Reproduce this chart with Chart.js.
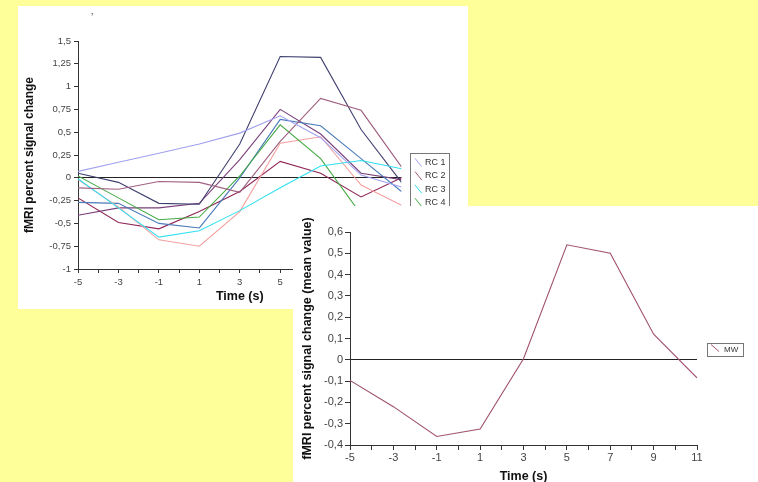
<!DOCTYPE html>
<html>
<head>
<meta charset="utf-8">
<script src="https://cdn.jsdelivr.net/npm/chart.js@4"></script>
<style>
  html, body { margin: 0; padding: 0; }
  body { width: 758px; height: 482px; background: #ffff99; position: relative; overflow: hidden; }
  .panel { position: absolute; background: #fff; }
  #p1 { left: 18px; top: 6px; width: 450px; height: 303px; }
  #p2 { left: 293px; top: 206px; width: 465px; height: 276px; }
  #mark { position: absolute; left: 73px; top: 6px; font: 10px 'Liberation Sans', Arial, sans-serif; color: #333; }
</style>
</head>
<body>
<div class="panel" id="p1"><canvas id="c1" width="450" height="303"></canvas><div id="mark">’</div></div>
<div class="panel" id="p2"><canvas id="c2" width="465" height="276"></canvas></div>
<script>
// time points (s)
var times = [-5, -3, -1, 1, 3, 5, 7, 9, 11];

// single runs, percent signal change
var rcLabels = ['RC 1', 'RC 2', 'RC 3', 'RC 4', 'RC 5', 'RC 6', 'RC 7', 'RC 8', 'RC 9'];
var rc1 = [0.07, 0.17, 0.27, 0.37, 0.49, 0.68, 0.44, 0.03, -0.1];
var rc2 = [-0.11, -0.125, -0.04, -0.05, -0.16, 0.40, 0.87, 0.74, 0.12];
var rc3 = [-0.01, -0.33, -0.65, -0.58, -0.36, -0.11, 0.13, 0.19, 0.1];
var rc4 = [0.02, -0.22, -0.46, -0.43, 0.02, 0.58, 0.21, -0.4, -0.55];
var rc5 = [-0.02, -0.32, -0.68, -0.75, -0.37, 0.38, 0.45, -0.08, -0.3];
var rc6 = [0.05, -0.05, -0.28, -0.29, 0.37, 1.33, 1.32, 0.53, -0.05];
var rc7 = [-0.27, -0.28, -0.5, -0.55, 0.0, 0.64, 0.57, 0.21, -0.15];
var rc8 = [-0.41, -0.33, -0.33, -0.28, 0.2, 0.75, 0.48, 0.05, -0.02];
var rc9 = [-0.22, -0.49, -0.56, -0.37, -0.15, 0.18, 0.05, -0.21, 0.0];
var rcColors = ['#a0a0f0', '#a06080', '#33e0f0', '#44aa44', '#f4a0a0', '#404070', '#4a7ab8', '#7a3f7a', '#902858'];

// mean over runs
var mwLabel = 'MW';
var mw = [-0.097, -0.22, -0.36, -0.325, 0.005, 0.54, 0.5, 0.12, -0.085];
var mwColor = '#a05070';

// axis ticks
var yTicks1 = { min: -1, max: 1.5, step: 0.25 };
var yTicks2 = { min: -0.4, max: 0.6, step: 0.1 };
var xTicks = { min: -5, max: 11, step: 1 };

Chart.defaults.font.family = "'Liberation Sans', Arial, sans-serif";
Chart.defaults.color = '#444';

function pts(vals) {
  return times.map(function (t, i) { return { x: t, y: vals[i] }; });
}

function comma(v) {
  return String(Math.round(v * 100) / 100).replace('.', ',');
}

var boxLegend = {
  id: 'boxLegend',
  afterDraw: function (chart, args, o) {
    var ctx = chart.ctx;
    ctx.save();
    ctx.lineWidth = 1;
    ctx.strokeStyle = '#777';
    ctx.strokeRect(o.x + 0.5, o.y + 0.5, o.w, o.h);
    ctx.font = o.font;
    ctx.textBaseline = 'middle';
    ctx.textAlign = 'left';
    chart.data.datasets.forEach(function (ds, i) {
      var cy = o.y + o.first + i * o.row;
      ctx.strokeStyle = ds.borderColor;
      ctx.beginPath();
      ctx.moveTo(o.x + o.ix0, cy + o.iy0);
      ctx.lineTo(o.x + o.ix1, cy + o.iy1);
      ctx.stroke();
      ctx.fillStyle = '#333';
      ctx.fillText(ds.label, o.x + o.tx, cy);
    });
    ctx.restore();
  }
};

function makeOptions(yt, cfg) {
  return {
    responsive: false,
    animation: false,
    layout: { padding: { left: 0, top: cfg.top, right: cfg.right, bottom: 0 } },
    plugins: {
      legend: { display: false },
      tooltip: { enabled: false },
      boxLegend: cfg.legend
    },
    scales: {
      x: {
        type: 'linear',
        min: xTicks.min, max: xTicks.max,
        afterFit: function (s) { s.height = cfg.xh; },
        border: { display: true, color: '#333', width: 1 },
        grid: { drawOnChartArea: false, drawTicks: true, tickLength: cfg.tick, tickColor: '#333' },
        ticks: {
          stepSize: xTicks.step, autoSkip: false, maxRotation: 0, padding: cfg.xpad,
          font: { size: cfg.fs }, color: '#444',
          callback: function (v) { return Math.abs(v % 2) === 1 ? String(v) : ''; }
        },
        title: {
          display: true, text: 'Time (s)', color: '#111',
          font: { size: 12.5, weight: 'bold', lineHeight: 1 },
          padding: { top: 0, bottom: cfg.xtp }
        }
      },
      y: {
        min: yt.min, max: yt.max,
        afterFit: function (s) { s.width = cfg.yw; },
        border: { display: true, color: '#333', width: 1 },
        grid: {
          drawOnChartArea: true, drawTicks: true, tickLength: cfg.tick, tickColor: '#333',
          color: function (c) { return c.tick && Math.abs(c.tick.value) < 1e-9 ? '#222' : 'rgba(0,0,0,0)'; }
        },
        ticks: {
          stepSize: yt.step, padding: cfg.ypad, font: { size: cfg.fs }, color: '#444',
          callback: function (v) { return comma(v); }
        },
        title: {
          display: true, text: cfg.ytitle, color: '#111',
          font: { size: cfg.yts, weight: 'bold', lineHeight: 1 },
          padding: { top: cfg.ytp, bottom: 0 }
        }
      }
    }
  };
}

var rcSeries = [rc1, rc2, rc3, rc4, rc5, rc6, rc7, rc8, rc9];

new Chart(document.getElementById('c1'), {
  type: 'line',
  data: {
    datasets: rcSeries.map(function (vals, i) {
      return {
        label: rcLabels[i], data: pts(vals), borderColor: rcColors[i],
        borderWidth: 1.1, pointRadius: 0, tension: 0, fill: false
      };
    })
  },
  options: makeOptions(yTicks1, {
    top: 35, right: 66.5, xh: 40, yw: 60, tick: 4, fs: 9.5, xpad: 4, ypad: 3, xtp: 6, ytp: 6, yts: 12,
    ytitle: 'fMRI percent signal change',
    legend: { x: 392, y: 147, w: 39, h: 125, first: 9.7, row: 13.3,
      ix0: 5, iy0: -4.4, ix1: 11.7, iy1: 4, tx: 15, font: "9px 'Liberation Sans', Arial, sans-serif" }
  }),
  plugins: [boxLegend]
});

new Chart(document.getElementById('c2'), {
  type: 'line',
  data: {
    datasets: [{
      label: mwLabel, data: pts(mw), borderColor: mwColor,
      borderWidth: 1.1, pointRadius: 0, tension: 0, fill: false
    }]
  },
  options: makeOptions(yTicks2, {
    top: 26, right: 61, xh: 37, yw: 57, tick: 5, fs: 11, xpad: 1, ypad: 2, xtp: -1, ytp: 8, yts: 12.5,
    ytitle: 'fMRI percent signal change (mean value)',
    legend: { x: 414, y: 137, w: 36, h: 13, first: 7, row: 13,
      ix0: 4, iy0: -5.5, ix1: 12, iy1: 1.5, tx: 17, font: "8px 'Liberation Sans', Arial, sans-serif" }
  }),
  plugins: [boxLegend]
});
</script>
</body>
</html>
